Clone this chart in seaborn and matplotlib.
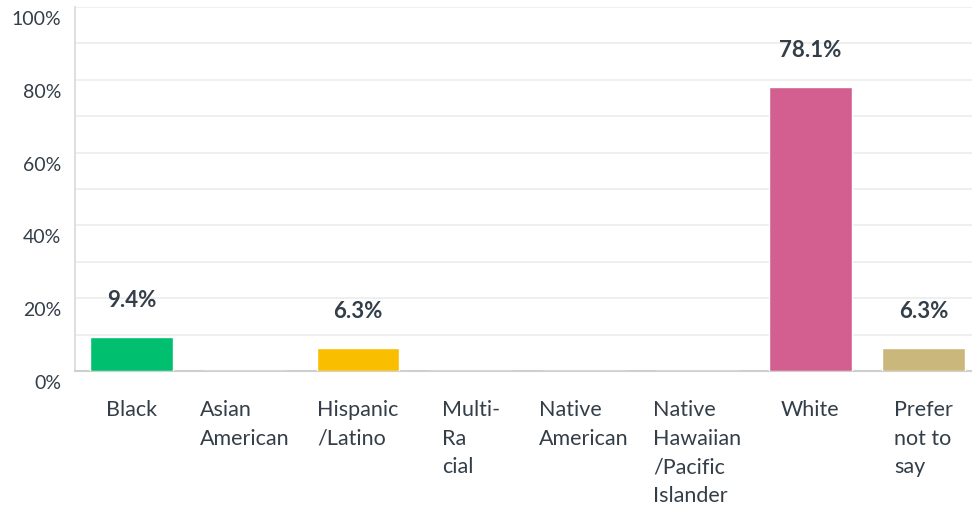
import matplotlib
matplotlib.use('Agg')
import matplotlib.pyplot as plt
import matplotlib.transforms as mtransforms
import seaborn as sns
import pandas as pd

# Daten
categories = ['Black', 'Asian American', 'Hispanic/Latino', 'Multi-Racial',
              'Native American', 'Native Hawaiian/Pacific Islander', 'White',
              'Prefer not to say']
tick_labels = ['Black', 'Asian\nAmerican', 'Hispanic\n/Latino', 'Multi-\nRa\ncial',
               'Native\nAmerican', 'Native\nHawaiian\n/Pacific\nIslander', 'White',
               'Prefer\nnot to\nsay']
values = [9.4, 0.0, 6.3, 0.0, 0.0, 0.0, 78.1, 6.3]
colors = ['#00bf6f', '#00bf6f', '#f9be00', '#f9be00', '#f9be00', '#f9be00',
          '#d25f90', '#c9b77c']

df = pd.DataFrame({'cat': categories, 'val': values})

sns.set_style('white')
plt.rcParams['font.family'] = ['Lato', 'DejaVu Sans']
text_col = '#333e48'

fig = plt.figure(figsize=(9.72, 5.10), dpi=100)
ax = fig.add_axes([75 / 972, 1 - 372 / 510, 1 - 75 / 972, 364 / 510])

sns.barplot(data=df, x='cat', y='val', hue='cat', palette=dict(zip(categories, colors)),
            width=0.73, saturation=1, legend=False, ax=ax, zorder=3)

ax.set_ylim(0, 100)
ax.set_xlim(-0.5, 7.43)
ax.set_yticks(range(0, 101, 20))
ax.set_yticks(range(10, 100, 20), minor=True)
ax.set_yticklabels([f'{v}%' for v in range(0, 101, 20)], fontsize=14, color=text_col)
ax.grid(axis='y', which='both', color='#ececec', linewidth=1.2, zorder=0)
ax.tick_params(axis='y', which='both', length=0, pad=10)

# y-Beschriftungen etwas nach unten verschieben
offset = mtransforms.ScaledTranslation(0, -10 / 100, fig.dpi_scale_trans)
for lab in ax.get_yticklabels():
    lab.set_transform(lab.get_transform() + offset)

ax.set_xticks(range(len(categories)))
ax.set_xticklabels(tick_labels, fontsize=15.5, color=text_col,
                   multialignment='left', linespacing=1.55, va='top')
ax.tick_params(axis='x', length=0, pad=20)
ax.set_xlabel('')
ax.set_ylabel('')

for s in ['top', 'right']:
    ax.spines[s].set_visible(False)
ax.spines['left'].set_color('#d9d9d9')
ax.spines['bottom'].set_color('#cfcfcf')
ax.spines['left'].set_linewidth(1.2)
ax.spines['bottom'].set_linewidth(1.5)

# Werte über den Balken
for i, v in enumerate(values):
    if v > 0:
        ax.annotate(f'{v}%', (i, v), xytext=(0, 27), textcoords='offset points',
                    ha='center', va='center', fontsize=16, fontweight='bold',
                    color=text_col)

fig.savefig('out.png', dpi=100)
